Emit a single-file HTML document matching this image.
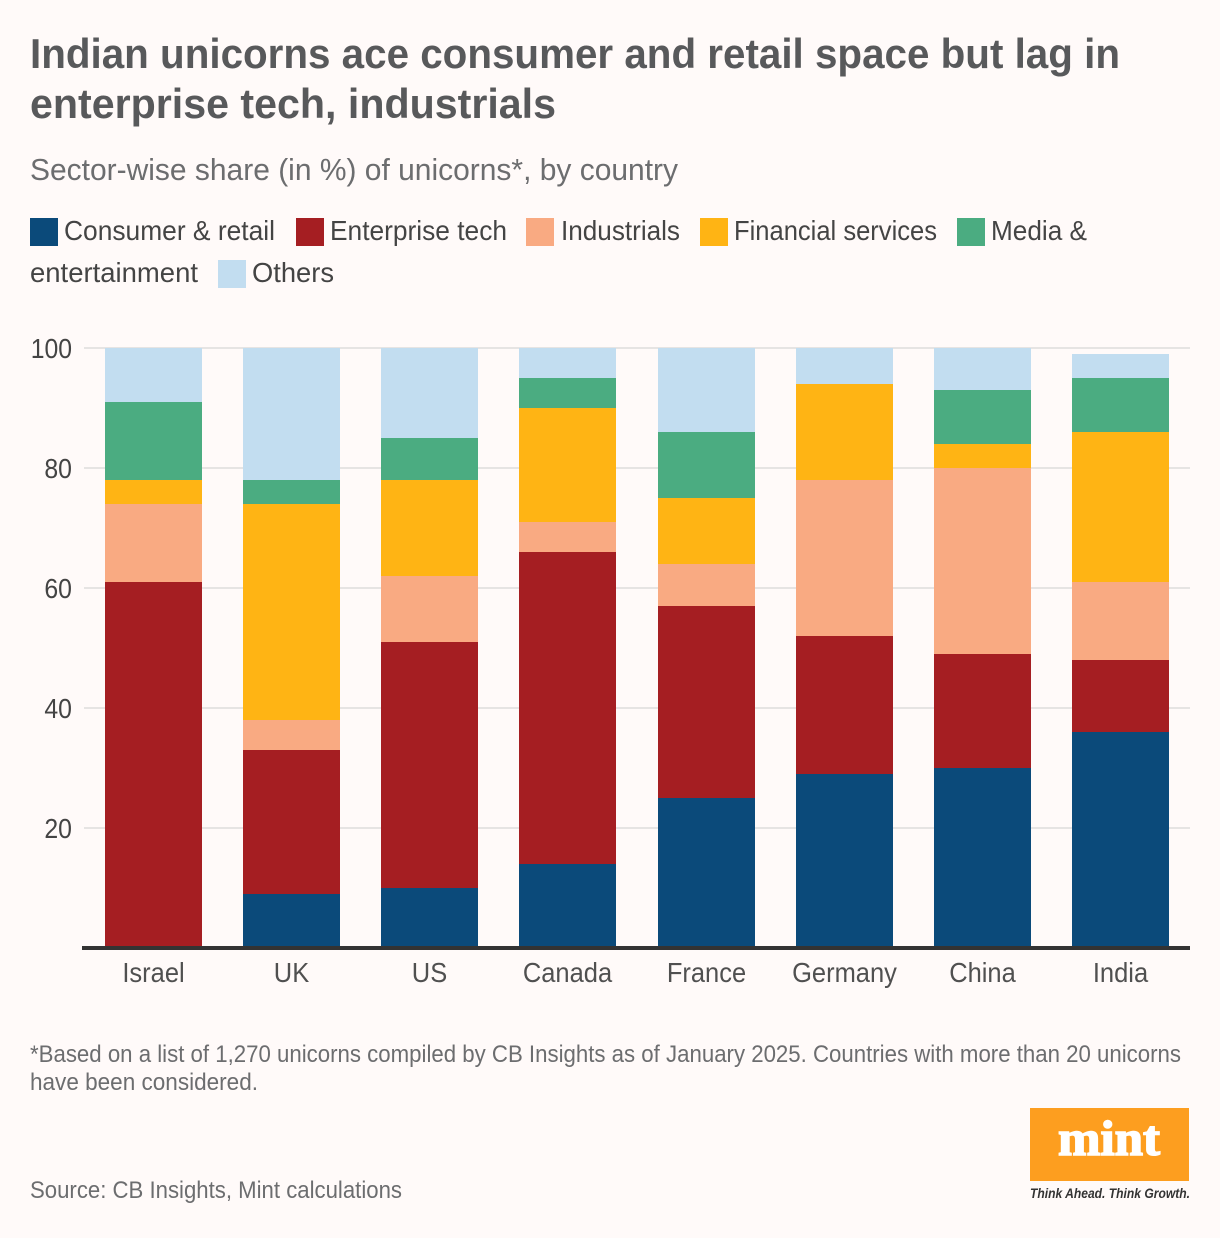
<!DOCTYPE html>
<html lang="en">
<head>
<meta charset="utf-8">
<title>Indian unicorns by sector</title>
<style>
html,body{margin:0;padding:0;background:#fffaf9;}
svg{display:block;font-family:"Liberation Sans",sans-serif;}
</style>
</head>
<body>
<svg id="chart" xmlns="http://www.w3.org/2000/svg" width="1220" height="1238" viewBox="0 0 1220 1238">
  <rect x="0" y="0" width="1220" height="1238" fill="#fffaf9"/>
  <text x="30" y="68" font-size="42" font-weight="700" fill="#58595b" textLength="1090" lengthAdjust="spacingAndGlyphs">Indian unicorns ace consumer and retail space but lag in</text>
  <text x="30" y="118" font-size="42" font-weight="700" fill="#58595b" textLength="526" lengthAdjust="spacingAndGlyphs">enterprise tech, industrials</text>
  <text x="30" y="180" font-size="31" fill="#6c6d6f" textLength="648" lengthAdjust="spacingAndGlyphs">Sector-wise share (in %) of unicorns*, by country</text>

  <g font-size="28" fill="#444444">
    <rect x="30" y="218" width="28" height="28" fill="#0b4a7a"/>
    <text x="64" y="240" textLength="211" lengthAdjust="spacingAndGlyphs">Consumer &amp; retail</text>
    <rect x="296" y="218" width="28" height="28" fill="#a51e22"/>
    <text x="330" y="240" textLength="177" lengthAdjust="spacingAndGlyphs">Enterprise tech</text>
    <rect x="526" y="218" width="28" height="28" fill="#f9aa82"/>
    <text x="561" y="240" textLength="119" lengthAdjust="spacingAndGlyphs">Industrials</text>
    <rect x="700" y="218" width="28" height="28" fill="#ffb414"/>
    <text x="734" y="240" textLength="203" lengthAdjust="spacingAndGlyphs">Financial services</text>
    <rect x="957" y="218" width="28" height="28" fill="#4bac81"/>
    <text x="991" y="240" textLength="96" lengthAdjust="spacingAndGlyphs">Media &amp;</text>
    <text x="30" y="282" textLength="168" lengthAdjust="spacingAndGlyphs">entertainment</text>
    <rect x="218" y="260" width="28" height="28" fill="#c2ddf0"/>
    <text x="252" y="282" textLength="82" lengthAdjust="spacingAndGlyphs">Others</text>
  </g>

  <g id="grid"></g>
  <g id="bars"></g>
  <rect x="82" y="946" width="1108" height="4" fill="#333333"/>
  <g id="yticks"></g>
  <g id="xticks"></g>

  <text x="30" y="1062" font-size="24" fill="#6c6d6f" textLength="1151" lengthAdjust="spacingAndGlyphs">*Based on a list of 1,270 unicorns compiled by CB Insights as of January 2025. Countries with more than 20 unicorns</text>
  <text x="30" y="1090" font-size="24" fill="#6c6d6f" textLength="228" lengthAdjust="spacingAndGlyphs">have been considered.</text>
  <text x="30" y="1198" font-size="24" fill="#6c6d6f" textLength="372" lengthAdjust="spacingAndGlyphs">Source: CB Insights, Mint calculations</text>

  <g>
    <rect x="1030" y="1108" width="159" height="73" fill="#fd9e1f"/>
    <text x="1058" y="1155" font-family="'Liberation Serif',serif" font-size="50" font-weight="700" fill="#ffffff" stroke="#ffffff" stroke-width="1.6" textLength="102" lengthAdjust="spacingAndGlyphs">mint</text>
    <text x="1030" y="1198" font-size="13.5" font-weight="700" font-style="italic" fill="#333333" textLength="160" lengthAdjust="spacingAndGlyphs">Think Ahead. Think Growth.</text>
  </g>
</svg>
<script>
const categories = ["Israel", "UK", "US", "Canada", "France", "Germany", "China", "India"];
const seriesNames = ["consumer-retail", "enterprise-tech", "industrials", "financial-services", "media-entertainment", "others"];
const consumerRetail = [0, 9, 10, 14, 25, 29, 30, 36];
const enterpriseTech = [61, 24, 41, 52, 32, 23, 19, 12];
const industrials = [13, 5, 11, 5, 7, 26, 31, 13];
const financialServices = [4, 36, 16, 19, 11, 16, 4, 25];
const mediaEntertainment = [13, 4, 7, 5, 11, 0, 9, 9];
const others = [9, 22, 15, 5, 14, 6, 7, 4];
const yTickLabels = [20, 40, 60, 80, 100];

const seriesValues = [consumerRetail, enterpriseTech, industrials, financialServices, mediaEntertainment, others];
const seriesColors = ["#0b4a7a", "#a51e22", "#f9aa82", "#ffb414", "#4bac81", "#c2ddf0"];
const NS = "http://www.w3.org/2000/svg";
const plotLeft = 84, plotRight = 1190, zeroY = 948, unitPx = 6, barWidth = 97;
const bandStep = (plotRight - plotLeft) / categories.length;

function yScale(v) { return zeroY - v * unitPx; }
function xBand(i) { return Math.round(plotLeft + i * bandStep + (bandStep - barWidth) / 2); }

function fitText(el, factor) {
  el.setAttribute('textLength', (el.getComputedTextLength() * factor).toFixed(1));
  el.setAttribute('lengthAdjust', 'spacingAndGlyphs');
}

const gridG = document.getElementById('grid');
const yG = document.getElementById('yticks');
yTickLabels.forEach(function (t) {
  const line = document.createElementNS(NS, 'rect');
  
  
  line.setAttribute('x', plotLeft);
  line.setAttribute('y', yScale(t) - 1);
  line.setAttribute('width', plotRight - plotLeft);
  line.setAttribute('height', 2);
  line.setAttribute('fill', '#e6e4e3');
  gridG.appendChild(line);

  const label = document.createElementNS(NS, 'text');
  
  
  label.setAttribute('x', 72);
  label.setAttribute('y', yScale(t) + 10);
  label.setAttribute('font-size', '28');
  label.setAttribute('fill', '#444444');
  label.setAttribute('text-anchor', 'end');
  label.textContent = t;
  yG.appendChild(label);
  fitText(label, 0.885);
});

const barsG = document.getElementById('bars');
categories.forEach(function (cat, i) {
  let cum = 0;
  seriesValues.forEach(function (vals, s) {
    const v = vals[i];
    if (v > 0) {
      const seg = document.createElementNS(NS, 'rect');
      
      
      seg.setAttribute('x', xBand(i));
      seg.setAttribute('y', yScale(cum + v));
      seg.setAttribute('width', barWidth);
      seg.setAttribute('height', v * unitPx);
      seg.setAttribute('fill', seriesColors[s]);
      barsG.appendChild(seg);
    }
    cum += v;
  });
});

const xG = document.getElementById('xticks');
categories.forEach(function (cat, i) {
  const label = document.createElementNS(NS, 'text');
  
  
  label.setAttribute('x', xBand(i) + barWidth / 2);
  label.setAttribute('y', 982);
  label.setAttribute('font-size', '28');
  label.setAttribute('fill', '#505050');
  label.setAttribute('text-anchor', 'middle');
  label.textContent = cat;
  xG.appendChild(label);
  fitText(label, 0.91);
});
</script>
</body>
</html>
